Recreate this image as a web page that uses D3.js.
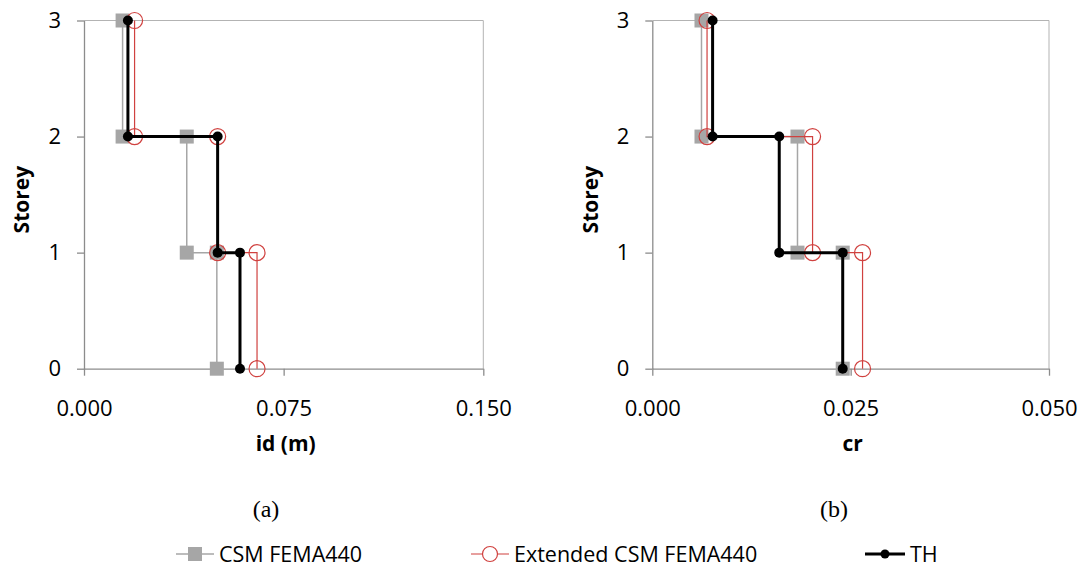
<!DOCTYPE html>
<html>
<head>
<meta charset="utf-8">
<script src="https://cdn.jsdelivr.net/npm/d3@7"></script>
<style>
  body { margin: 0; background: #fff; }
  svg { display: block; font-family: 'Open Sans', sans-serif; }
</style>
</head>
<body>
<div id="chart"></div>
<script>
// storey level of each vertex along the step profile (top to bottom)
const storeyLevels = [3, 2, 2, 1, 1, 0];
const storeyTicks = [0, 1, 2, 3];

// (a) inter-storey drift id (m)
const idTicks = [0, 0.075, 0.15];
const csmId = [0.0145, 0.0145, 0.0386, 0.0386, 0.0499, 0.0499];
const extId = [0.019, 0.019, 0.0502, 0.0502, 0.065, 0.065];
const thId = [0.0165, 0.0165, 0.0502, 0.0502, 0.0586, 0.0586];

// (b) drift ratio cr
const crTicks = [0, 0.025, 0.05];
const csmCr = [0.0062, 0.0062, 0.0183, 0.0183, 0.024, 0.024];
const extCr = [0.0069, 0.0069, 0.0202, 0.0202, 0.0265, 0.0265];
const thCr = [0.0076, 0.0076, 0.016, 0.016, 0.024, 0.024];

const seriesNames = ['CSM FEMA440', 'Extended CSM FEMA440', 'TH'];

const width = 1086;
const height = 568;

const gray = '#a6a6a6';
const red = '#d0413f';
const axisColor = '#8c8c8c';

const svg = d3
  .select('#chart')
  .append('svg')
  .attr('width', width)
  .attr('height', height);

const marginTop = 20.5;
const plotBottom = 368.7;

function Panel({ left, right, ticks, csm, ext, th, xTitle, caption, captionX }) {
  const x = d3.scaleLinear().domain([ticks[0], ticks[ticks.length - 1]]).range([left, right]);
  const y = d3.scaleLinear().domain([0, 3]).range([plotBottom, marginTop]);

  const g = svg.append('g');

  // plot frame (top and right)
  g.append('path')
    .attr('d', `M${left},${marginTop}H${right}V${plotBottom}`)
    .attr('fill', 'none')
    .attr('stroke', '#b3b3b3')
    .attr('stroke-width', 1);

  // x axis
  g.append('g')
    .attr('transform', `translate(0,${plotBottom})`)
    .call(
      d3.axisBottom(x)
        .tickValues(ticks)
        .tickFormat(d3.format('.3f'))
        .tickSize(7)
        .tickSizeOuter(0)
        .tickPadding(25)
    )
    .call((a) => a.selectAll('line, path').attr('stroke', axisColor).attr('stroke-width', 1.3))
    .call((a) =>
      a.selectAll('text')
        .attr('font-family', 'Open Sans')
        .attr('font-size', 22)
        .attr('fill', '#000')
    );

  // y axis
  g.append('g')
    .attr('transform', `translate(${left},0)`)
    .call(
      d3.axisLeft(y)
        .tickValues(storeyTicks)
        .tickFormat(d3.format('d'))
        .tickSize(7)
        .tickSizeOuter(0)
        .tickPadding(16)
    )
    .call((a) => a.selectAll('line, path').attr('stroke', axisColor).attr('stroke-width', 1.3))
    .call((a) =>
      a.selectAll('text')
        .attr('font-family', 'Open Sans')
        .attr('font-size', 22)
        .attr('fill', '#000')
    );

  // axis titles
  g.append('text')
    .attr('x', (left + right) / 2 + 2)
    .attr('y', 444)
    .attr('dy', '0.35em')
    .attr('text-anchor', 'middle')
    .attr('font-weight', 'bold')
    .attr('font-size', 21)
    .text(xTitle);

  g.append('text')
    .attr('transform', `translate(${left - 62},${(marginTop + plotBottom) / 2 + 5}) rotate(-90)`)
    .attr('dy', '0.35em')
    .attr('text-anchor', 'middle')
    .attr('font-weight', 'bold')
    .attr('font-size', 21)
    .text('Storey');

  g.append('text')
    .attr('x', captionX)
    .attr('y', 509)
    .attr('dy', '0.33em')
    .attr('text-anchor', 'middle')
    .attr('font-family', 'Liberation Serif, serif')
    .attr('font-size', 24)
    .text(caption);

  const line = d3
    .line()
    .x((d) => x(d[0]))
    .y((d) => y(d[1]));

  const pts = (xs) => xs.map((v, i) => [v, storeyLevels[i]]);

  // CSM FEMA440
  g.append('path')
    .datum(pts(csm))
    .attr('d', line)
    .attr('fill', 'none')
    .attr('stroke', gray)
    .attr('stroke-width', 1.5);
  g.append('g')
    .selectAll('rect')
    .data(pts(csm))
    .join('rect')
    .attr('x', (d) => x(d[0]) - 7)
    .attr('y', (d) => y(d[1]) - 7)
    .attr('width', 14)
    .attr('height', 14)
    .attr('fill', gray);

  // Extended CSM FEMA440
  g.append('path')
    .datum(pts(ext))
    .attr('d', line)
    .attr('fill', 'none')
    .attr('stroke', red)
    .attr('stroke-width', 1.2);
  g.append('g')
    .selectAll('circle')
    .data(pts(ext))
    .join('circle')
    .attr('cx', (d) => x(d[0]))
    .attr('cy', (d) => y(d[1]))
    .attr('r', 8)
    .attr('fill', 'none')
    .attr('stroke', red)
    .attr('stroke-width', 1.2);

  // TH
  g.append('path')
    .datum(pts(th))
    .attr('d', line)
    .attr('fill', 'none')
    .attr('stroke', '#000')
    .attr('stroke-width', 3);
  g.append('g')
    .selectAll('circle')
    .data(pts(th))
    .join('circle')
    .attr('cx', (d) => x(d[0]))
    .attr('cy', (d) => y(d[1]))
    .attr('r', 5)
    .attr('fill', '#000');
}

Panel({
  left: 84, right: 483.3, ticks: idTicks,
  csm: csmId, ext: extId, th: thId,
  xTitle: 'id (m)', caption: '(a)', captionX: 266,
});

Panel({
  left: 652.3, right: 1049, ticks: crTicks,
  csm: csmCr, ext: extCr, th: thCr,
  xTitle: 'cr', caption: '(b)', captionX: 834,
});

// Legend
const legendY = 554;
const legendX = [176, 471, 865];
const legend = svg
  .append('g')
  .selectAll('g')
  .data(seriesNames)
  .join('g')
  .attr('transform', (d, i) => `translate(${legendX[i]},${legendY})`);

legend.append('line')
  .attr('x1', 0)
  .attr('x2', (d, i) => (i === 2 ? 40 : 38))
  .attr('stroke', (d, i) => [gray, red, '#000'][i])
  .attr('stroke-width', (d, i) => [1.5, 1.2, 3][i]);

legend.each(function (d, i) {
  const item = d3.select(this);
  if (i === 0) {
    item.append('rect').attr('x', 12).attr('y', -7).attr('width', 14).attr('height', 14).attr('fill', gray);
  } else if (i === 1) {
    item.append('circle').attr('cx', 19).attr('r', 7.5).attr('fill', '#fff').attr('stroke', red).attr('stroke-width', 1.2);
  } else {
    item.append('circle').attr('cx', 20).attr('r', 4.5).attr('fill', '#000');
  }
});

legend.append('text')
  .attr('x', (d, i) => (i === 2 ? 45 : 43))
  .attr('dy', '0.35em')
  .attr('font-size', 21.5)
  .text((d) => d);
</script>
</body>
</html>
